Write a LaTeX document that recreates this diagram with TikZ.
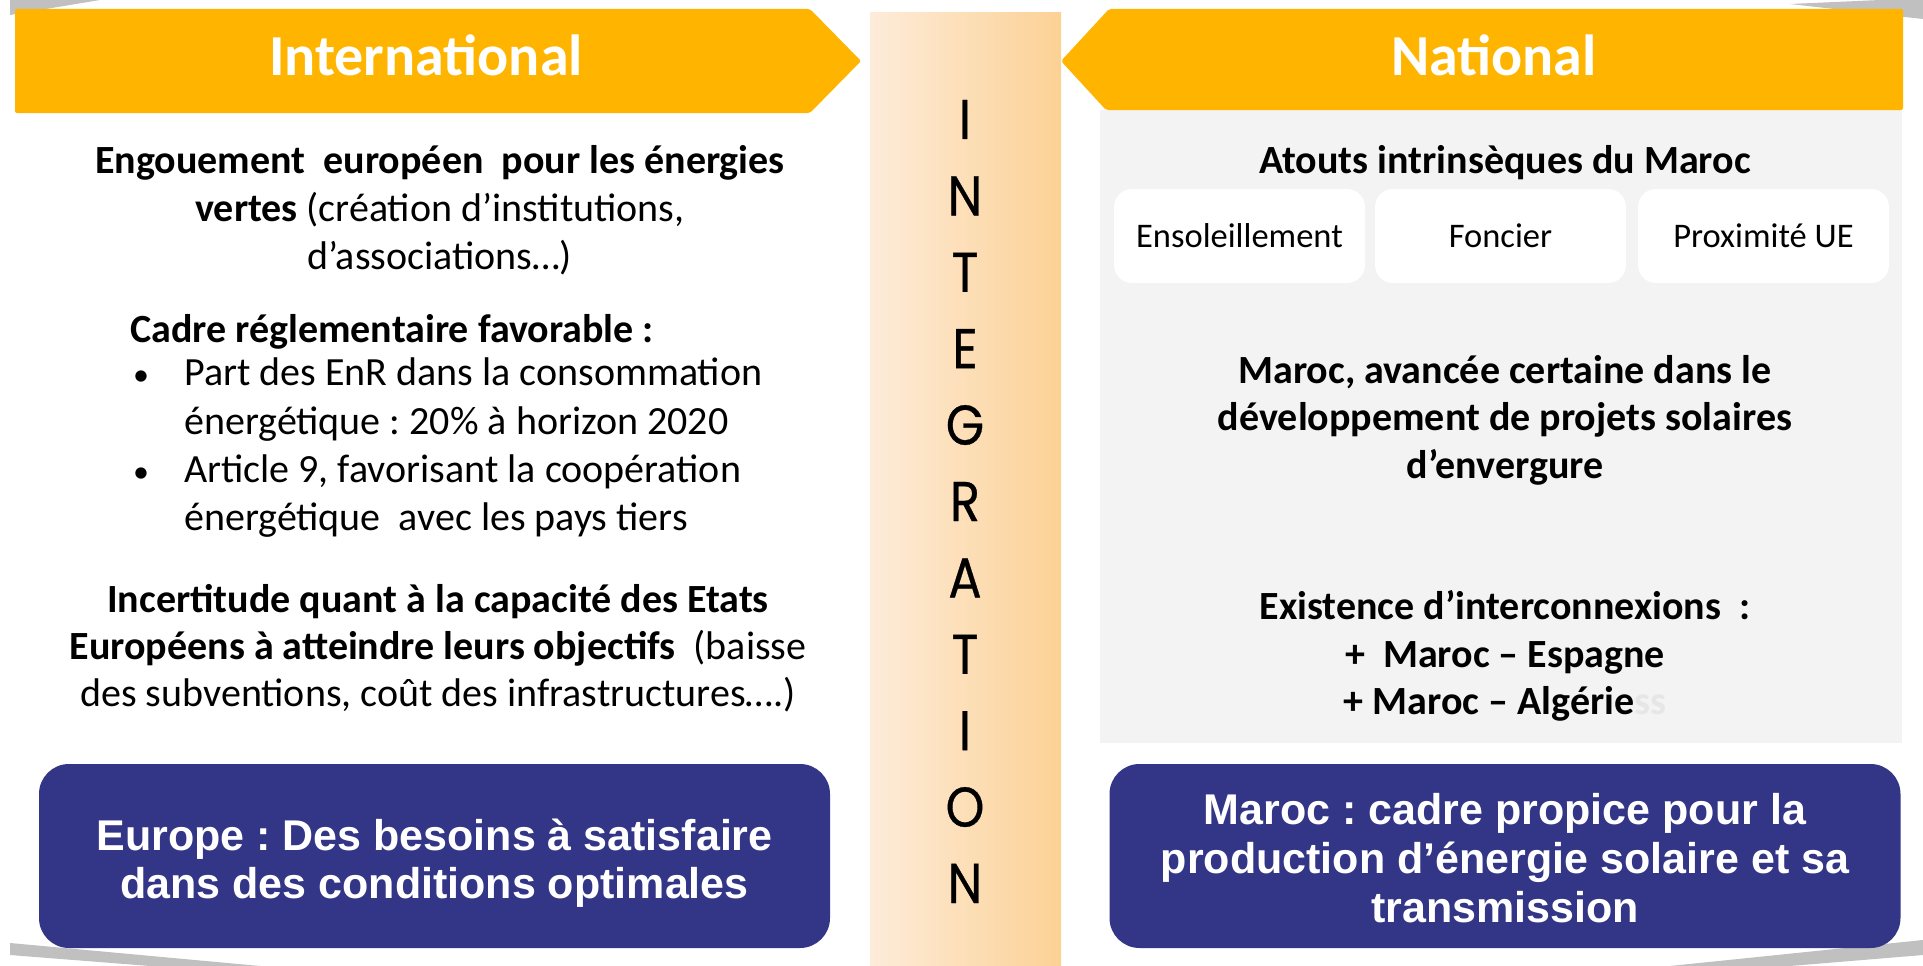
\documentclass[tikz,border=0pt]{standalone}
\usepackage{fontspec}
\usepackage{graphicx}
\setmainfont{Carlito}
\newfontfamily\arialfont{Liberation Sans}
\newfontfamily\gothfont[FakeBold=0.6]{Poppins}
\frenchspacing

\definecolor{bannerorange}{RGB}{255,181,0}
\definecolor{navy}{RGB}{51,54,134}
\definecolor{panelgrey}{RGB}{243,243,243}
\definecolor{edgegrey}{RGB}{192,192,192}
\definecolor{stripleft}{RGB}{253,236,218}
\definecolor{stripright}{RGB}{252,209,149}
\definecolor{ghost}{RGB}{230,230,230}

\tikzset{
  banner/.style={fill=bannerorange, rounded corners=2pt},
  bannertext/.style={text=white, inner sep=0, anchor=base,
    font=\fontsize{58}{70}\selectfont\bfseries},
  regtxt/.style={inner sep=0, anchor=base, font=\fontsize{40}{48}\selectfont},
  boldtxt/.style={inner sep=0, anchor=base, font=\fontsize{40}{48}\selectfont\bfseries},
  bulletmark/.style={inner sep=0, anchor=base, font=\fontsize{32}{40}\selectfont},
  assetbox/.style={fill=white, rounded corners=18pt, minimum width=251pt,
    minimum height=94pt, inner sep=0},
  assettxt/.style={inner sep=0, anchor=base, font=\fontsize{34.5}{41}\selectfont},
  navybox/.style={fill=navy, rounded corners=30pt, minimum width=791pt,
    minimum height=184pt, inner sep=0},
  navytxt/.style={inner sep=0, anchor=base, text=white,
    font=\arialfont\fontsize{43}{49}\selectfont\bfseries},
  integ/.style={inner sep=0, anchor=base, font=\gothfont\fontsize{56}{60}\selectfont},
}

\begin{document}
\begin{tikzpicture}[x=1pt, y=-1pt]
  \useasboundingbox (0,0) rectangle (1923,966);
  \fill[white] (0,0) rectangle (1923,966);

  % grey slivers peeking out at the corners
  \fill[edgegrey] (10,0) -- (100,0) -- (10,15) -- cycle;
  \fill[edgegrey] (1790,4) -- (1880,0) -- (1923,0) -- (1923,19) -- cycle;
  \fill[edgegrey] (10,943) -- (260,966) -- (150,966) -- (10,955) -- cycle;
  \fill[edgegrey] (1923,940) -- (1923,955) -- (1790,966) -- (1670,966) -- cycle;

  % central integration strip
  \shade[left color=stripleft, right color=stripright] (870,13) rectangle (1061,966);
  \foreach \ch [count=\k from 0] in {I,N,T,E,G,R,A,T,I,O,N}
    \node[integ] (int\k) at (965,{139+76.4*\k}) {\scalebox{0.88}[1]{\ch}};

  % right panel background
  \fill[panelgrey] (1100,110) rectangle (1902,743);

  % banners
  \fill[banner] (15,9) -- (810,9) -- (861,61) -- (810,113) -- (15,113) -- cycle;
  \fill[banner] (1903,9) -- (1109,9) -- (1061,61) -- (1106,110) -- (1903,110) -- cycle;
  \node[bannertext] (intl) at (426,76) {International};
  \node[bannertext] (natl) at (1494,76) {National};

  % left column
  \node[boldtxt] (eng1) at (440,173) {Engouement\ \ européen\ \ pour les énergies};
  \node[regtxt] (eng2) at (440,221) {\textbf{vertes} (création d’institutions,};
  \node[regtxt] (eng3) at (440,269) {d’associations…)};

  \node[boldtxt, anchor=base west] (cadre) at (130,342) {Cadre réglementaire favorable :};
  \node[bulletmark] (bul1) at (141,385) {•};
  \node[regtxt, anchor=base west] (enr1) at (184,385) {Part des EnR dans la consommation};
  \node[regtxt, anchor=base west] (enr2) at (184,434) {énergétique : 20\% à horizon 2020};
  \node[bulletmark] (bul2) at (141,482) {•};
  \node[regtxt, anchor=base west] (art1) at (184,482) {Article 9, favorisant la coopération};
  \node[regtxt, anchor=base west] (art2) at (184,530) {énergétique\ \ avec les pays tiers};

  \node[boldtxt] (inc1) at (438,612) {Incertitude quant à la capacité des Etats};
  \node[regtxt] (inc2) at (438,659) {\textbf{Européens à atteindre leurs objectifs}\ \ (baisse};
  \node[regtxt] (inc3) at (438,706) {des subventions, coût des infrastructures….)};

  \node[navybox] (eubox) at (434.5,856) {};
  \node[navytxt] (eu1) at (434.5,850) {Europe : Des besoins à satisfaire};
  \node[navytxt] (eu2) at (434.5,898) {dans des conditions optimales};

  % right column
  \node[boldtxt] (atouts) at (1505,173) {Atouts intrinsèques du Maroc};
  \node[assetbox] (sun) at (1239.5,236) {};
  \node[assetbox] (land) at (1500.5,236) {};
  \node[assetbox] (near) at (1763.5,236) {};
  \node[assettxt] (suntxt) at (sun.center) [yshift=-11pt] {Ensoleillement};
  \node[assettxt] (landtxt) at (land.center) [yshift=-11pt] {Foncier};
  \node[assettxt] (neartxt) at (near.center) [yshift=-11pt] {Proximité UE};

  \node[boldtxt] (av1) at (1505,383) {Maroc, avancée certaine dans le};
  \node[boldtxt] (av2) at (1505,430) {développement de projets solaires};
  \node[boldtxt] (av3) at (1505,478) {d’envergure};

  \node[boldtxt] (ic1) at (1505,619) {Existence d’interconnexions\ \ :};
  \node[boldtxt] (ic2) at (1505,667) {+\ \ Maroc – Espagne};
  \node[boldtxt] (ic3) at (1505,714) {+ Maroc – Algérie{\color{ghost}ss}};

  \node[navybox] (mabox) at (1505,856) {};
  \node[navytxt] (ma1) at (1505,824) {Maroc : cadre propice pour la};
  \node[navytxt] (ma2) at (1505,873) {production d’énergie solaire et sa};
  \node[navytxt] (ma3) at (1505,922) {transmission};
\end{tikzpicture}
\end{document}
